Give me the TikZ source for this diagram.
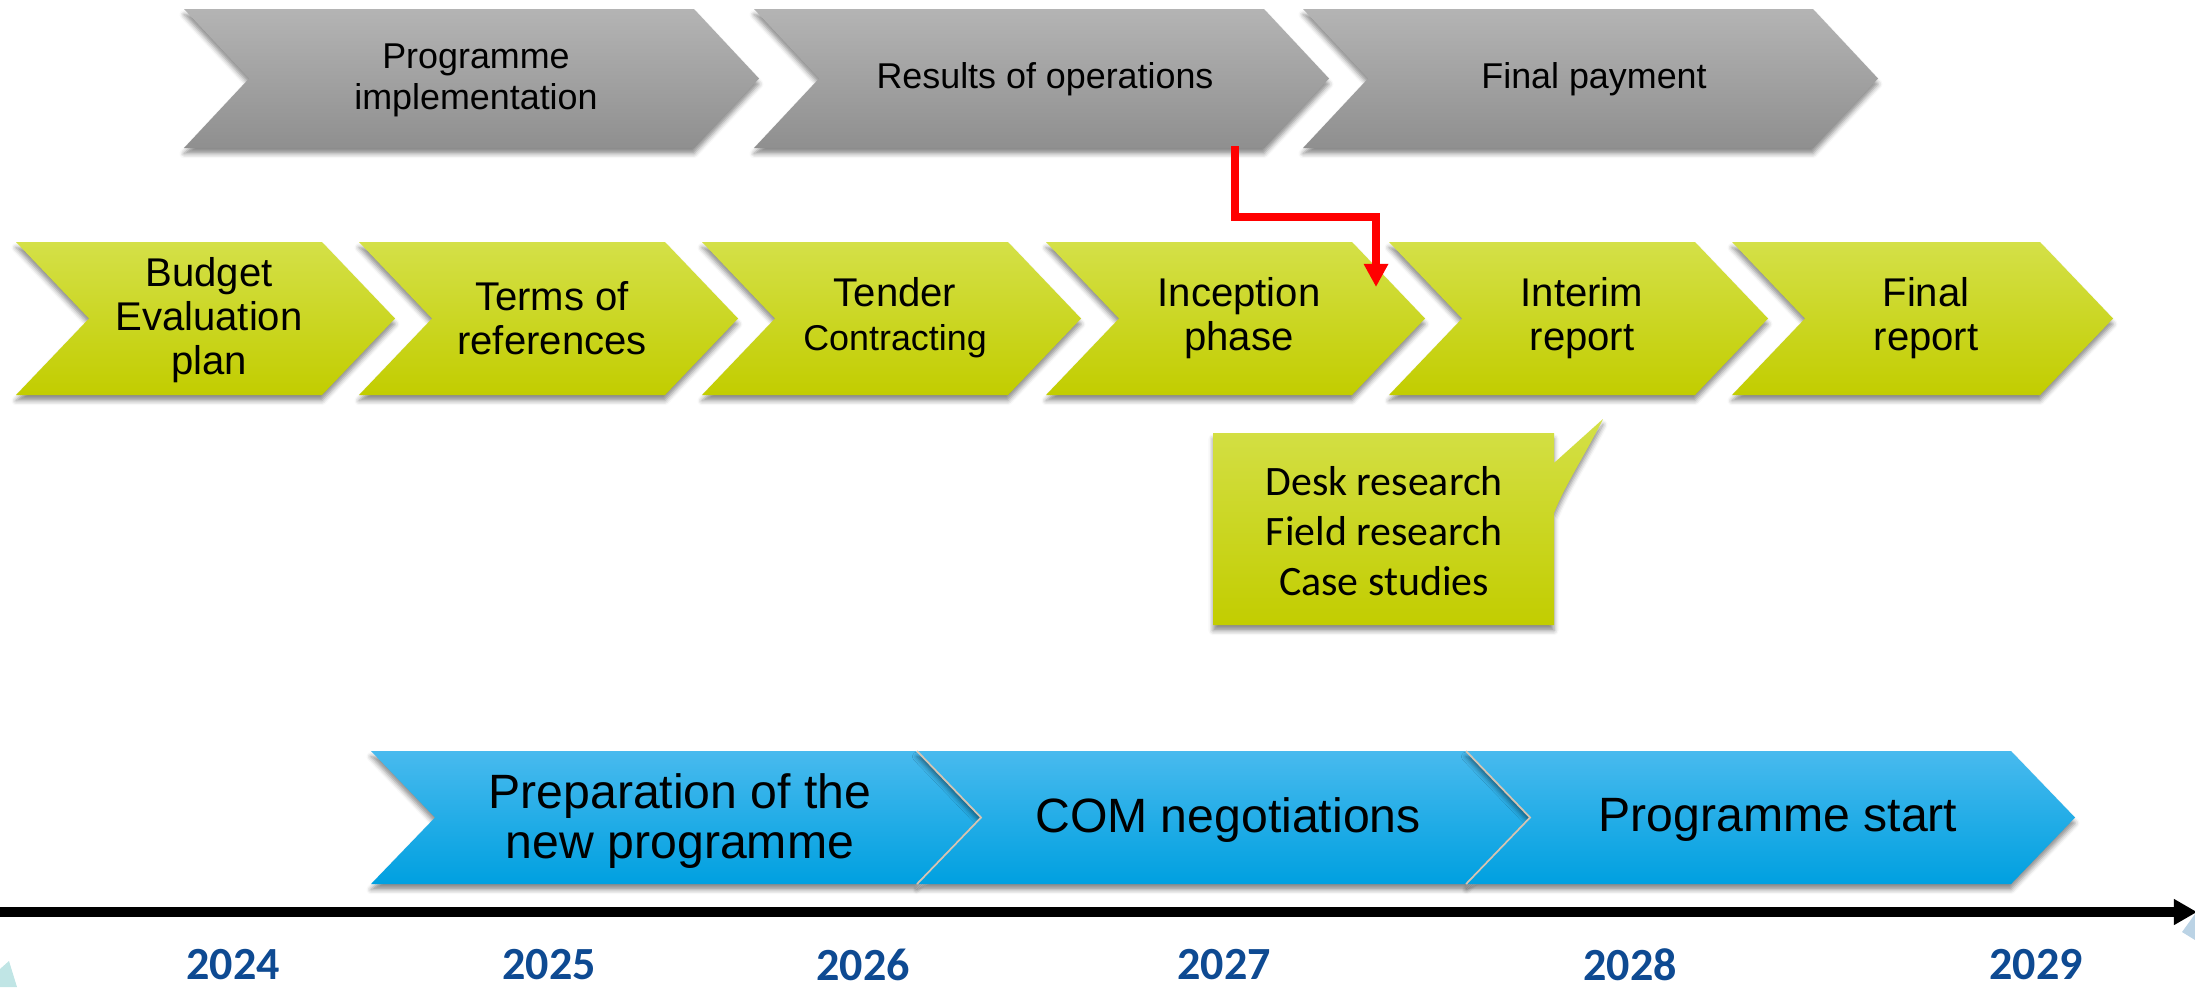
\documentclass[tikz,border=0pt]{standalone}
\usepackage{fontspec}
\setmainfont{Liberation Sans}
\newfontfamily\calib{Carlito}
\usetikzlibrary{arrows.meta,shadows.blur}

\definecolor{graytop}{RGB}{180,180,180}
\definecolor{graymid}{RGB}{163,163,163}
\definecolor{graybot}{RGB}{143,143,143}
\definecolor{limetop}{RGB}{212,224,72}
\definecolor{limemid}{RGB}{206,221,0}
\definecolor{limebot}{RGB}{194,205,0}
\definecolor{skytop}{RGB}{72,186,238}
\definecolor{skymid}{RGB}{0,176,240}
\definecolor{skybot}{RGB}{0,160,224}
\definecolor{yearblue}{RGB}{14,74,146}
\definecolor{seam}{RGB}{214,196,178}

% chevron outline: style, left x, top y, width (to tip), height, notch depth
\newcommand{\chevshape}[6]{%
  \path[#1] (#2,#3) -- ({#2+#4-#6},#3) -- ({#2+#4},{#3+#5/2})
    -- ({#2+#4-#6},{#3+#5}) -- (#2,{#3+#5}) -- ({#2+#6},{#3+#5/2}) -- cycle;}

\tikzset{
  softshadow/.style={blur shadow={shadow xshift=0pt, shadow yshift=-1.6pt,
      shadow blur radius=1.3pt, shadow opacity=45}},
  graychev/.style={softshadow, top color=graytop, middle color=graymid, bottom color=graybot},
  limechev/.style={softshadow, top color=limetop, middle color=limemid, bottom color=limebot},
  skychev/.style={softshadow, top color=skytop, middle color=skymid, bottom color=skybot},
  graytxt/.style={align=center, inner sep=0pt, font=\fontsize{10.2pt}{11.6pt}\selectfont},
  limetxt/.style={align=center, inner sep=0pt, font=\fontsize{11.4pt}{12.6pt}\selectfont},
  skytxt/.style={align=center, inner sep=0pt, font=\fontsize{13.7pt}{14pt}\selectfont},
  notetxt/.style={align=center, inner sep=0pt, font=\calib\fontsize{11.9pt}{14.2pt}\selectfont},
  yearlbl/.style={inner sep=0pt, text=yearblue, font=\calib\bfseries\fontsize{13.1pt}{15pt}\selectfont},
  flowarrow/.style={draw=red, line width=2.3pt, -{Triangle[length=6.6pt,width=6.6pt]}},
  timeaxis/.style={draw=black, line width=2.6pt, -{Triangle[length=6.6pt,width=7pt]}}
}

\begin{document}
\begin{tikzpicture}[x=0.01cm, y=-0.01cm]
\useasboundingbox (0,0) rectangle (2195,987);

% faint corner fragments of the slide background
\fill[color={rgb,255:red,165;green,218;blue,218}, opacity=.7] (0,969) -- (9,961) -- (17,987) -- (0,987) -- cycle;
\fill[color={rgb,255:red,170;green,200;blue,222}, opacity=.8] (2182,932) -- (2195,914) -- (2195,940) -- cycle;

% programme row
\chevshape{graychev}{184}{9}{575}{139}{65}
\chevshape{graychev}{754}{9}{575}{139}{65}
\chevshape{graychev}{1303}{9}{575}{139}{65}
\node[graytxt] (prog) at (476,80) {Programme\\implementation};
\node[graytxt] (ops) at (1045,79) {Results of operations};
\node[graytxt] (pay) at (1594,79) {Final payment};

% evaluation row
\chevshape{limechev}{16}{242}{379}{153}{73}
\chevshape{limechev}{359}{242}{379}{153}{73}
\chevshape{limechev}{702}{242}{379}{153}{73}
\chevshape{limechev}{1046}{242}{379}{153}{73}
\chevshape{limechev}{1389}{242}{379}{153}{73}
\chevshape{limechev}{1732}{242}{381}{153}{73}
\node[limetxt] (budget) at (209,320) {Budget\\Evaluation\\plan};
\node[limetxt] (terms) at (552,318) {Terms of\\references};
\node[limetxt] (tender) at (895,318) {Tender\\{\fontsize{10.2pt}{12pt}\selectfont Contracting}};
\node[limetxt] (incep) at (1239,318) {Inception\\phase};
\node[limetxt] (interim) at (1582,318) {Interim\\report};
\node[limetxt] (final) at (1926,318) {Final\\report};

% callout with research activities
\path[limechev] (1213,433) -- (1554,433) -- (1554,463) -- (1603,419)
  .. controls (1585,455) and (1565,485) .. (1554,513) -- (1554,625) -- (1213,625) -- cycle;
\node[notetxt] (research) at (1384,531) {Desk research\\Field research\\Case studies};

% link from results of operations to the evaluation row
\coordinate (redstart) at (1235,146);
\coordinate (redmid) at (1376,217);
\coordinate (redend) at (1376,287);
\draw[flowarrow] (redstart) |- (redmid) -- (redend);

% next programme row
\chevshape{skychev}{371}{751}{609}{133}{64}
\chevshape{skychev}{917}{751}{614}{133}{64}
\chevshape{skychev}{1466}{751}{609}{133}{64}
\draw[seam, line width=0.5pt] (917,751) -- (981,817.5) -- (917,884);
\draw[seam, line width=0.5pt] (1466,751) -- (1530,817.5) -- (1466,884);
\node[skytxt] (prep) at (680,821) {Preparation of the\\new programme};
\node[skytxt] (com) at (1228,820) {COM negotiations};
\node[skytxt] (start) at (1778,820) {Programme start};

% time axis
\coordinate (axisstart) at (0,912);
\coordinate (axisend) at (2197,912);
\draw[timeaxis] (axisstart) -- (axisend);
\node[yearlbl] (y2024) at (233,965) {2024};
\node[yearlbl] (y2025) at (549,965) {2025};
\node[yearlbl] (y2026) at (863,965) {2026};
\node[yearlbl] (y2027) at (1224,965) {2027};
\node[yearlbl] (y2028) at (1630,965) {2028};
\node[yearlbl] (y2029) at (2036,965) {2029};
\end{tikzpicture}
\end{document}
